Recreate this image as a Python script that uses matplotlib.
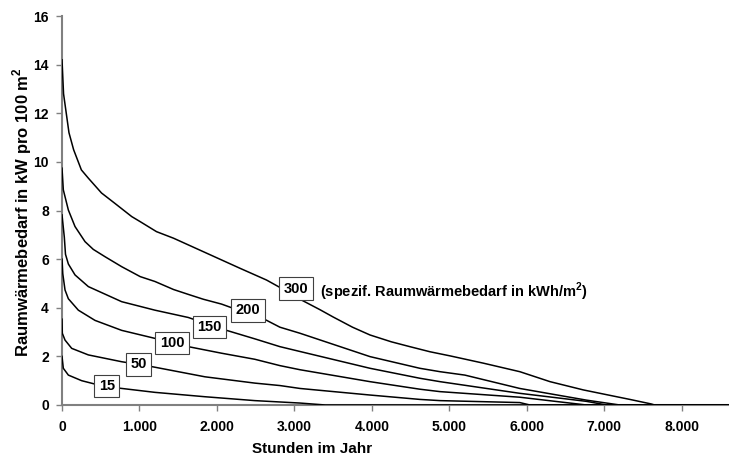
import matplotlib
matplotlib.use("Agg")
import matplotlib.pyplot as plt
from matplotlib.ticker import FuncFormatter, MultipleLocator

plt.rcParams['font.family'] = ['Liberation Sans', 'DejaVu Sans']
plt.rcParams['font.weight'] = 'bold'
plt.rcParams['mathtext.fontset'] = 'custom'
plt.rcParams['mathtext.rm'] = 'Liberation Sans:bold'
plt.rcParams['mathtext.bf'] = 'Liberation Sans:bold'

# Data: load duration curves (hours per year vs. heat load in kW per 100 m2)
hours_300 = [0, 20, 90, 150, 250, 340, 510, 680, 900, 1010, 1220, 1440, 1870, 2300, 2640, 2810,
             3090, 3330, 3500, 3750, 3976, 4250, 4490, 4750, 5010, 5440, 5910, 6300, 6730, 7160, 7330,
             7610, 7650, 8760]
load_300 = [14.2, 12.8, 11.2, 10.5, 9.67, 9.33, 8.72, 8.3, 7.75, 7.54, 7.13, 6.86, 6.24, 5.62, 5.14, 4.84,
            4.32, 3.92, 3.62, 3.2, 2.88, 2.6, 2.4, 2.19, 2.02, 1.72, 1.37, 0.96, 0.62, 0.34, 0.23,
            0.04, 0.0, 0.0]

hours_200 = [0, 17, 82, 168, 297, 404, 555, 770, 1010, 1200, 1440, 1630, 1824, 2060, 2190, 2400, 2600,
             2813, 3073, 3976, 4619, 4880, 5200, 5910, 6770, 7200, 8760]
load_200 = [9.74, 8.85, 8.02, 7.34, 6.72, 6.4, 6.1, 5.69, 5.28, 5.08, 4.75, 4.55, 4.35, 4.15, 4.0, 3.8, 3.55,
            3.2, 2.95, 1.99, 1.51, 1.37, 1.23, 0.68, 0.2, 0.0, 0.0]

hours_150 = [0, 30, 45, 82, 168, 340, 770, 1200, 1630, 1904, 2103, 2490, 2813, 3073, 3976, 4619, 4880,
             5910, 6770, 7030, 8760]
load_150 = [7.82, 6.9, 6.2, 5.8, 5.35, 4.87, 4.25, 3.9, 3.6, 3.3, 3.09, 2.72, 2.4, 2.2, 1.51, 1.10, 0.96,
            0.48, 0.15, 0.0, 0.0]

hours_100 = [0, 10, 39, 82, 211, 426, 770, 1200, 1420, 1630, 2060, 2490, 2813, 3073, 3976, 4619, 4880,
             5910, 6770, 8760]
load_100 = [6.0, 5.4, 4.73, 4.37, 3.9, 3.48, 3.07, 2.74, 2.6, 2.4, 2.13, 1.88, 1.62, 1.45, 0.96, 0.65, 0.55,
            0.32, 0.0, 0.0]

hours_50 = [0, 4, 39, 125, 340, 770, 985, 1157, 1845, 2490, 2813, 3073, 3976, 4619, 4880, 5910, 6040, 8760]
load_50 = [3.53, 2.95, 2.67, 2.33, 2.06, 1.78, 1.67, 1.58, 1.16, 0.9, 0.8, 0.68, 0.41, 0.23, 0.18, 0.1,
           0.0, 0.0]

hours_15 = [0, 17, 82, 254, 426, 577, 748, 1200, 1845, 2490, 3073, 3400, 8760]
load_15 = [2.0, 1.51, 1.23, 1.0, 0.86, 0.78, 0.69, 0.52, 0.34, 0.18, 0.08, 0.0, 0.0]

curve_names = ["300", "200", "150", "100", "50", "15"]
curve_hours = [hours_300, hours_200, hours_150, hours_100, hours_50, hours_15]
curve_loads = [load_300, load_200, load_150, load_100, load_50, load_15]
label_hours = [3020, 2400, 1904, 1420, 985, 577]
label_loads = [4.79, 3.9, 3.21, 2.55, 1.67, 0.78]

note_text = r"(spezif. Raumwärmebedarf in kWh/m$^\mathbf{2}$)"
x_title = "Stunden im Jahr"
y_title = r"Raumwärmebedarf in kW pro 100 m$^\mathbf{2}$"

W, H = 729, 459
fig = plt.figure(figsize=(W / 100, H / 100), dpi=100)
ax = fig.add_axes([62 / W, 1 - 405 / H, (W - 62) / W, (405 - 16) / H])

for hrs, ld in zip(curve_hours, curve_loads):
    ax.plot(hrs, ld, color='black', lw=1.1, solid_joinstyle='round', zorder=3)

for name, lx, ly in zip(curve_names, label_hours, label_loads):
    ax.text(lx, ly, name, ha='center', va='center', fontsize=10.5, fontweight='bold', zorder=5,
            bbox=dict(boxstyle='square,pad=0.3', fc='white', ec='#404040', lw=0.8))

ax.text(3330, 4.66, note_text, ha='left', va='center', fontsize=10.5, fontweight='bold', zorder=5)

ax.set_xlim(0, 8610)
ax.set_ylim(0, 16)
ax.xaxis.set_major_locator(MultipleLocator(1000))
ax.yaxis.set_major_locator(MultipleLocator(2))
ax.xaxis.set_major_formatter(FuncFormatter(lambda v, p: f"{int(round(v)):,}".replace(",", ".")))
ax.yaxis.set_major_formatter(FuncFormatter(lambda v, p: f"{int(round(v))}"))

for s in ['top', 'right']:
    ax.spines[s].set_visible(False)
for s in ['left', 'bottom']:
    ax.spines[s].set_color('#808080')
    ax.spines[s].set_linewidth(1.5)
ax.tick_params(axis='both', direction='out', length=4.5, width=1, color='#808080', labelsize=10)
ax.tick_params(axis='x', pad=6.5)
ax.tick_params(axis='y', pad=5)
for lab in ax.get_xticklabels() + ax.get_yticklabels():
    lab.set_fontweight('bold')

fig.text(312 / W, 1 - 449 / H, x_title, ha='center', va='center', fontsize=11, fontweight='bold')
fig.text(22 / W, 1 - 212 / H, y_title, ha='center', va='center', rotation=90, fontsize=12,
         fontweight='bold')

fig.savefig("out.png", dpi=100)
